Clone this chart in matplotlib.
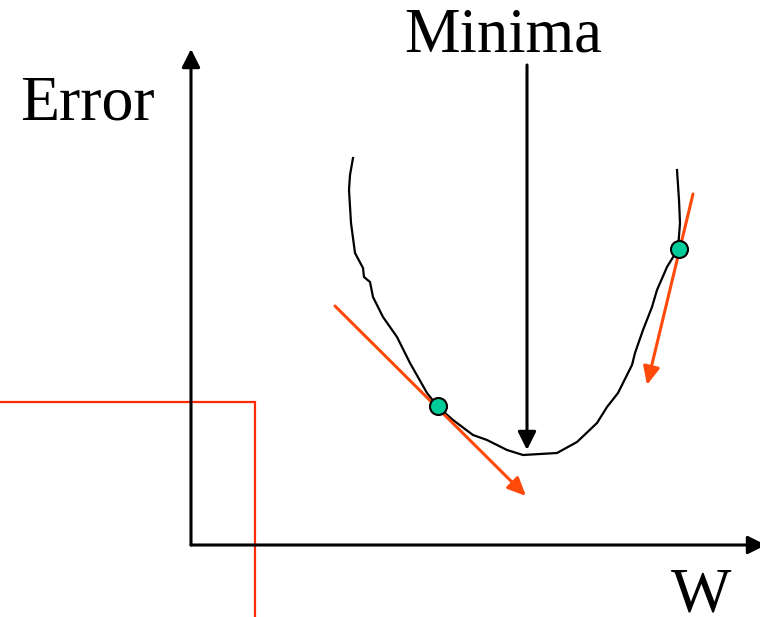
import matplotlib.pyplot as plt
from matplotlib.patches import ArrowStyle

# diagram drawn in picture units (x right, y down), 760 x 617
W_PX, H_PX = 760, 617

# error curve
curve_x = [353, 350, 349, 351, 355, 363, 364, 370, 373, 383, 397, 410, 427,
           438, 453, 473, 487, 507, 523, 557, 577, 597, 607, 618, 632, 635,
           643, 652, 657, 667, 678, 680, 679, 677]
curve_y = [158, 175, 190, 223, 253, 268, 277, 282, 297, 317, 337, 363, 393,
           407, 420, 435, 440, 450, 455, 453, 442, 423, 407, 393, 365, 353,
           330, 307, 290, 267, 249, 223, 200, 170]

# points on the curve where the gradient is shown
pts_x = [438, 679]
pts_y = [406, 249]

# gradient arrows (start -> tip)
grad_start = [(335, 306), (693, 194)]
grad_tip = [(526, 496), (647, 385)]

# "Minima" arrow
minima_x = 527
minima_top, minima_tip = 65, 450

# axes
origin = (191, 545)
y_axis_top = 49
x_axis_right = 766

# red box lines
red_y = 402
red_x = 255

fig = plt.figure(figsize=(W_PX / 100, H_PX / 100), dpi=100)
ax = fig.add_axes([0, 0, 1, 1])
ax.set_xlim(0, W_PX)
ax.set_ylim(H_PX, 0)
ax.axis('off')

serif = ['Liberation Serif', 'DejaVu Serif']

def arrow(start, tip, color, lw, hl, hw):
    style = ArrowStyle('-|>', head_length=hl, head_width=hw)
    ax.annotate('', xy=tip, xytext=start,
                arrowprops=dict(arrowstyle=style, color=color, lw=lw,
                                shrinkA=0, shrinkB=0, mutation_scale=1),
                annotation_clip=False)

# red lines
ax.plot([0, red_x, red_x], [red_y, red_y, H_PX], color='#ff2a00', lw=1.6,
        solid_joinstyle='miter')

# axes with arrows
arrow(origin, (origin[0], y_axis_top), 'black', 2.2, 11, 5.5)
arrow(origin, (x_axis_right, origin[1]), 'black', 2.2, 11, 5.5)

# curve
ax.plot(curve_x, curve_y, color='black', lw=1.6, zorder=3,
        solid_joinstyle='round')

# minima arrow
arrow((minima_x, minima_top), (minima_x, minima_tip), 'black', 2.2, 11, 5.5)

# gradient arrows
for s, t in zip(grad_start, grad_tip):
    arrow(s, t, '#ff4a0a', 2.2, 11, 5)

ax.scatter(pts_x, pts_y, s=150, color='#00cc99', edgecolor='black',
           linewidth=1.5, zorder=5)

ax.text(503, 51, 'Minima', family=serif, fontsize=45, ha='center',
        va='baseline')
ax.text(20, 120, 'Error', family=serif, fontsize=46, ha='left',
        va='baseline')
ax.text(701, 611, 'W', family=serif, fontsize=46, ha='center',
        va='baseline')

fig.savefig('out.png', dpi=100)
